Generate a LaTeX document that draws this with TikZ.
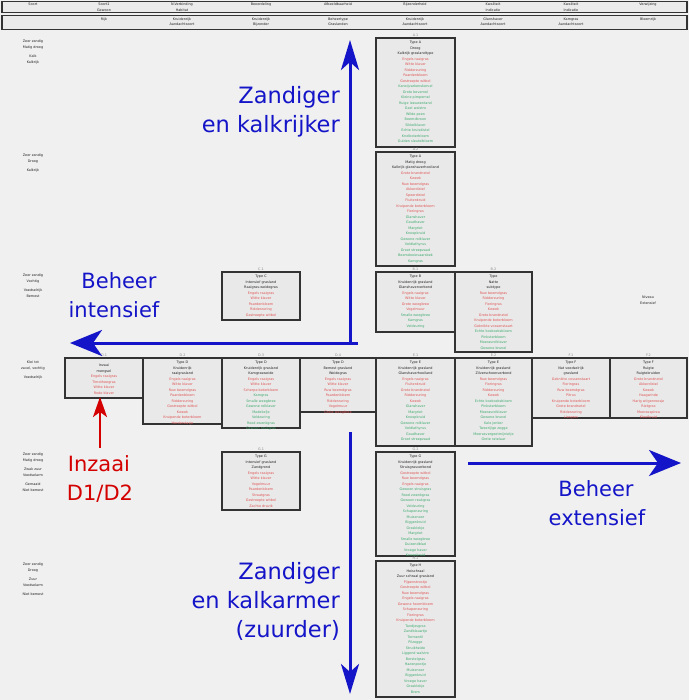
\documentclass[tikz,border=0pt]{standalone}
\usepackage{fontspec}
\setmainfont{DejaVu Sans}
\usetikzlibrary{arrows.meta}
\definecolor{bg}{HTML}{F0F0F0}
\definecolor{boxc}{HTML}{333333}
\definecolor{txr}{HTML}{E05555}
\definecolor{txg}{HTML}{3DAA6E}
\definecolor{txk}{HTML}{222222}
\definecolor{txl}{HTML}{8A8A8A}
\definecolor{arrb}{HTML}{1414C8}
\definecolor{arrr}{HTML}{D40000}
\newcommand\tinyf{\fontsize{3.4}{5.5}\selectfont}
\newcommand\bigf{\fontsize{22.5}{29}\selectfont}
\newcommand\midf{\fontsize{21}{29}\selectfont}
\newcommand\linK[1]{{\color{txk}#1}}
\newcommand\linR[1]{{\color{txr}#1}}
\newcommand\linG[1]{{\color{txg}#1}}
\tikzset{
  boxline/.style={draw=boxc, line width=1.2pt, fill=black!3!bg},
  hdrline/.style={draw=boxc, line width=1.5pt, fill=black!2!bg},
  boxlbl/.style={font=\tinyf, text=txl, inner sep=0pt},
  cell/.style={anchor=north, align=center, font=\tinyf, inner sep=0pt, text=txk},
  sidelbl/.style={anchor=north, align=center, font=\tinyf, inner sep=0pt, text=txk},
  bigtxt/.style={font=\bigf, inner sep=0pt, text=arrb},
  midtxt/.style={font=\midf, inner sep=0pt, text=arrb},
  redtxt/.style={font=\midf, inner sep=0pt, text=arrr},
  bluearrowh/.style={draw=arrb, line width=3pt, -{Stealth[length=32pt,width=26pt,inset=9pt]}},
  bluearrowv/.style={draw=arrb, line width=3pt, -{Stealth[length=30pt,width=18pt,inset=8pt]}},
  redarrow/.style={draw=arrr, line width=2.5pt, -{Stealth[length=20pt,width=14pt,inset=5pt]}}
}
\newcommand\cellbox[7]{%
  \draw[boxline] (#2,#3) rectangle (#4,#5);
  \node[boxlbl] (#1l) at ({(#2+#4)/2},#3-2.5) {#6};
  \node[cell] (#1) at ({(#2+#4)/2},#3+3) {#7};}
\begin{document}
\begin{tikzpicture}[x=1pt,y=-1pt]
\fill[bg] (0,0) rectangle (689,700);
\useasboundingbox (0,0) rectangle (689,700);

% header rows
\draw[hdrline] (2,1.5) rectangle (687,12.5);
\draw[hdrline] (2,15.5) rectangle (687,29.5);
\node[cell] (h1a) at (33,3) {Soort};
\node[cell] (h1b) at (104,3) {Soort1\\Gewoon};
\node[cell] (h1c) at (182,3) {N-Verbinding\\Habitat};
\node[cell] (h1d) at (261,3) {Beoordeling};
\node[cell] (h1e) at (338,3) {Afbeeldbaarheid};
\node[cell] (h1f) at (415,3) {Bijzonderheid};
\node[cell] (h1g) at (493,3) {Kwaliteit\\Indicatie};
\node[cell] (h1h) at (571,3) {Kwaliteit\\Indicatie};
\node[cell] (h1i) at (648,3) {Verwijzing};
\node[cell] (h2b) at (104,17.5) {Rijk};
\node[cell] (h2c) at (182,17.5) {Kruidenrijk\\Aandachtsoort};
\node[cell] (h2d) at (261,17.5) {Kruidenrijk\\Bijzonder};
\node[cell] (h2e) at (338,17.5) {Beheertype\\Graslanden};
\node[cell] (h2f) at (415,17.5) {Kruidenrijk\\Aandachtsoort};
\node[cell] (h2g) at (493,17.5) {Glanshaver\\Aandachtsoort};
\node[cell] (h2h) at (571,17.5) {Kamgras\\Aandachtsoort};
\node[cell] (h2i) at (648,17.5) {Bloemrijk};

% left labels
\node[sidelbl] (s1) at (33,40) {Zeer zandig\\Matig droog\\[4pt]Kalk\\Kalkrijk};
\node[sidelbl] (s2) at (33,154) {Zeer zandig\\Droog\\[4pt]Kalkrijk};
\node[sidelbl] (s3) at (33,274) {Zeer zandig\\Vochtig\\[4pt]Voedselrijk\\Bemest};
\node[sidelbl] (s4) at (33,361) {Klei tot\\zavel, vochtig\\[4pt]Voedselrijk};
\node[sidelbl] (s5) at (33,453) {Zeer zandig\\Matig droog\\[4pt]Zwak zuur\\Voedselarm\\[4pt]Gemaaid\\Niet bemest};
\node[sidelbl] (s6) at (33,563) {Zeer zandig\\Droog\\[4pt]Zuur\\Voedselarm\\[4pt]Niet bemest};
\node[sidelbl] (s7) at (648,296) {Niveau\\Extensief};

% central column, upper
\cellbox{b1}{376}{38}{455}{147}{A.1}{\linK{Type A}\\\linK{Droog}\\\linK{Kalkrijk graslandtype}\\
\linR{Engels raaigras}\\\linR{Witte klaver}\\\linR{Ridderzuring}\\\linR{Paardenbloem}\\\linR{Gestreepte witbol}\\
\linG{Karwijvarkenskervel}\\\linG{Grote bevernel}\\\linG{Kleine pimpernel}\\\linG{Ruige leeuwentand}\\\linG{Geel walstro}\\\linG{Wilde peen}\\\linG{Beemdkroon}\\\linG{Sikkelklaver}\\\linG{Echte kruisdistel}\\\linG{Knolboterbloem}\\\linG{Gulden sleutelbloem}}
\cellbox{b2}{376}{152}{455}{266}{A.2}{\linK{Type A}\\\linK{Matig droog}\\\linK{Kalkrijk glanshaverhooiland}\\
\linR{Grote brandnetel}\\\linR{Kweek}\\\linR{Ruw beemdgras}\\\linR{Akkerdistel}\\\linR{Speerdistel}\\\linR{Fluitenkruid}\\\linR{Kruipende boterbloem}\\\linR{Fioringras}\\
\linG{Glanshaver}\\\linG{Goudhaver}\\\linG{Margriet}\\\linG{Knoopkruid}\\\linG{Gewone rolklaver}\\\linG{Veldlathyrus}\\\linG{Groot streepzaad}\\\linG{Beemdooievaarsbek}\\\linG{Kamgras}}
\cellbox{b3}{376}{272}{455}{332}{B.1}{\linK{Type B}\\\linK{Kruidenrijk grasland}\\\linK{Glanshaververbond}\\
\linR{Engels raaigras}\\\linR{Witte klaver}\\\linR{Grote weegbree}\\\linR{Vogelmuur}\\
\linG{Smalle weegbree}\\\linG{Kamgras}\\\linG{Veldzuring}}
\cellbox{b3b}{455}{272}{532}{352}{B.2}{\linK{Type}\\\linK{Natte}\\\linK{subtype}\\
\linR{Ruw beemdgras}\\\linR{Ridderzuring}\\\linR{Fioringras}\\\linR{Kweek}\\\linR{Grote brandnetel}\\\linR{Kruipende boterbloem}\\\linR{Geknikte vossenstaart}\\
\linG{Echte koekoeksbloem}\\\linG{Pinksterbloem}\\\linG{Moerasrolklaver}\\\linG{Gewone brunel}}
\cellbox{b4}{222}{272}{300}{320}{C.1}{\linK{Type C}\\\linK{Intensief grasland}\\\linK{Raaigras-weidegras}\\
\linR{Engels raaigras}\\\linR{Witte klaver}\\\linR{Paardenbloem}\\\linR{Ridderzuring}\\\linR{Gestreepte witbol}}

% middle row
\cellbox{m1}{65}{358}{143}{398}{D.1}{~\\\linK{Inzaai}\\\linK{mengsel}\\
\linR{Engels raaigras}\\\linR{Timotheegras}\\\linR{Witte klaver}\\\linR{Rode klaver}}
\cellbox{m2}{143}{358}{222}{424}{D.2}{\linK{Type D}\\\linK{Kruidenrijk}\\\linK{raaigrasland}\\
\linR{Engels raaigras}\\\linR{Witte klaver}\\\linR{Ruw beemdgras}\\\linR{Paardenbloem}\\\linR{Ridderzuring}\\\linR{Gestreepte witbol}\\\linR{Kweek}\\\linR{Kruipende boterbloem}\\\linR{Herderstasje}}
\cellbox{m3}{222}{358}{300}{428}{D.3}{\linK{Type D}\\\linK{Kruidenrijk grasland}\\\linK{Kamgrasweide}\\
\linR{Engels raaigras}\\\linR{Witte klaver}\\\linR{Scherpe boterbloem}\\
\linG{Kamgras}\\\linG{Smalle weegbree}\\\linG{Gewone rolklaver}\\\linG{Madeliefje}\\\linG{Veldzuring}\\\linG{Rood zwenkgras}\\\linG{Gewoon reukgras}}
\cellbox{m4}{300}{358}{376}{412}{D.4}{\linK{Type D}\\\linK{Bemest grasland}\\\linK{Weidegras}\\
\linR{Engels raaigras}\\\linR{Witte klaver}\\\linR{Ruw beemdgras}\\\linR{Paardenbloem}\\\linR{Ridderzuring}\\\linR{Vogelmuur}\\\linR{Grote weegbree}}
\cellbox{m5}{376}{358}{455}{446}{E.1}{\linK{Type E}\\\linK{Kruidenrijk grasland}\\\linK{Glanshaverhooiland}\\
\linR{Engels raaigras}\\\linR{Fluitenkruid}\\\linR{Grote brandnetel}\\\linR{Ridderzuring}\\\linR{Kweek}\\
\linG{Glanshaver}\\\linG{Margriet}\\\linG{Knoopkruid}\\\linG{Gewone rolklaver}\\\linG{Veldlathyrus}\\\linG{Goudhaver}\\\linG{Groot streepzaad}}
\cellbox{m6}{455}{358}{532}{446}{E.2}{\linK{Type E}\\\linK{Kruidenrijk grasland}\\\linK{Zilverschoonverbond}\\
\linR{Ruw beemdgras}\\\linR{Fioringras}\\\linR{Ridderzuring}\\\linR{Kweek}\\
\linG{Echte koekoeksbloem}\\\linG{Pinksterbloem}\\\linG{Moerasrolklaver}\\\linG{Gewone brunel}\\\linG{Kale jonker}\\\linG{Tweerijige zegge}\\\linG{Moerasvergeetmijnietje}\\\linG{Grote ratelaar}}
\cellbox{m7}{532}{358}{610}{418}{F.1}{\linK{Type F}\\\linK{Nat voedselrijk}\\\linK{grasland}\\
\linR{Geknikte vossenstaart}\\\linR{Fioringras}\\\linR{Ruw beemdgras}\\\linR{Pitrus}\\\linR{Kruipende boterbloem}\\\linR{Grote brandnetel}\\\linR{Ridderzuring}\\\linR{Liesgras}}
\cellbox{m8}{610}{358}{687}{418}{F.2}{\linK{Type F}\\\linK{Ruigte}\\\linK{Ruigtekruiden}\\
\linR{Grote brandnetel}\\\linR{Akkerdistel}\\\linR{Kweek}\\\linR{Haagwinde}\\\linR{Harig wilgenroosje}\\\linR{Rietgras}\\\linR{Moerasspirea}\\\linR{Kleefkruid}}

% lower boxes
\cellbox{l1}{222}{452}{300}{510}{G.1}{\linK{Type G}\\\linK{Intensief grasland}\\\linK{Zandgrond}\\
\linR{Engels raaigras}\\\linR{Witte klaver}\\\linR{Vogelmuur}\\\linR{Paardenbloem}\\\linR{Straatgras}\\\linR{Gestreepte witbol}\\\linR{Zachte dravik}}
\cellbox{l2}{376}{452}{455}{556}{G.2}{\linK{Type G}\\\linK{Kruidenrijk grasland}\\\linK{Struisgrasverbond}\\
\linR{Gestreepte witbol}\\\linR{Ruw beemdgras}\\\linR{Engels raaigras}\\
\linG{Gewoon struisgras}\\\linG{Rood zwenkgras}\\\linG{Gewoon reukgras}\\\linG{Veldzuring}\\\linG{Schapenzuring}\\\linG{Muizenoor}\\\linG{Biggenkruid}\\\linG{Grasklokje}\\\linG{Margriet}\\\linG{Smalle weegbree}\\\linG{Duizendblad}\\\linG{Vroege haver}\\\linG{Knoopkruid}}
\cellbox{l3}{376}{561}{455}{697}{H.1}{\linK{Type H}\\\linK{Heischraal}\\\linK{Zuur schraal grasland}\\
\linR{Pijpenstrootje}\\\linR{Gestreepte witbol}\\\linR{Ruw beemdgras}\\\linR{Engels raaigras}\\\linR{Gewone hoornbloem}\\\linR{Schapenzuring}\\\linR{Fioringras}\\\linR{Kruipende boterbloem}\\
\linG{Tandjesgras}\\\linG{Zandblauwtje}\\\linG{Tormentil}\\\linG{Pilzegge}\\\linG{Struikheide}\\\linG{Liggend walstro}\\\linG{Borstelgras}\\\linG{Hazenpootje}\\\linG{Muizenoor}\\\linG{Biggenkruid}\\\linG{Vroege haver}\\\linG{Grasklokje}\\\linG{Brem}}

% arrows
\coordinate (upA) at (350,345);
\coordinate (upB) at (350,40);
\coordinate (lfA) at (358,343);
\coordinate (lfB) at (70,343);
\coordinate (rtA) at (468,463);
\coordinate (rtB) at (681,463);
\coordinate (dnA) at (350,432);
\coordinate (dnB) at (350,694);
\coordinate (rdA) at (100,448);
\coordinate (rdB) at (100,397);
\draw[bluearrowv] (upA) -- (upB);
\draw[bluearrowh] (lfA) -- (lfB);
\draw[bluearrowh] (rtA) -- (rtB);
\draw[bluearrowv] (dnA) -- (dnB);
\draw[redarrow] (rdA) -- (rdB);

% big labels
\node[bigtxt, anchor=base east] (t1a) at (340,104) {Zandiger};
\node[bigtxt, anchor=base east] (t1b) at (340,133) {en kalkrijker};
\node[midtxt, anchor=base] (t2a) at (119,288) {Beheer};
\node[midtxt, anchor=base] (t2b) at (114,317) {intensief};
\node[midtxt, anchor=base] (t3a) at (596,496) {Beheer};
\node[midtxt, anchor=base] (t3b) at (597,525) {extensief};
\node[bigtxt, anchor=base east] (t4a) at (340,579) {Zandiger};
\node[bigtxt, anchor=base east] (t4b) at (340,608) {en kalkarmer};
\node[bigtxt, anchor=base east] (t4c) at (340,637) {(zuurder)};
\node[redtxt, anchor=base] (t5a) at (99,471) {Inzaai};
\node[redtxt, anchor=base] (t5b) at (100,500) {D1/D2};
\end{tikzpicture}
\end{document}
